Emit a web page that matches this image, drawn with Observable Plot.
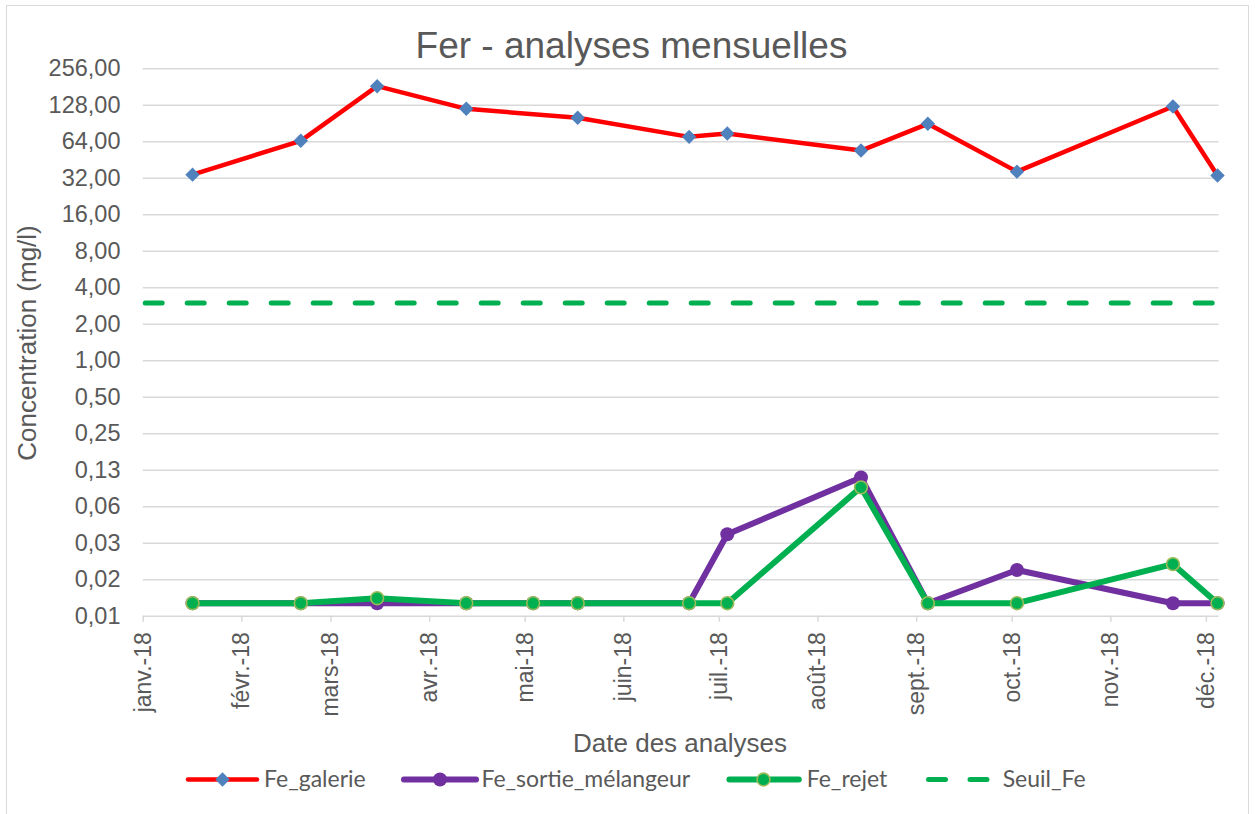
<!DOCTYPE html>
<html><head><meta charset="utf-8">
<script src="https://cdn.jsdelivr.net/npm/d3@7"></script>
<script src="https://cdn.jsdelivr.net/npm/@observablehq/plot@0.6"></script>
<style>
body{margin:0;background:#fff;}
#chart{position:relative;width:1255px;height:814px;overflow:hidden;background:#fff;}
#frame{position:absolute;left:6px;top:5px;width:1243px;height:812px;border:1.4px solid #d9d9d9;box-sizing:border-box;}
#chart svg{position:absolute;left:0;top:0;}
</style></head><body><div id="chart"><div id="frame"></div></div>
<script>
// ---- data ----
const galerieDates = ["2018-01-16","2018-02-19","2018-03-15","2018-04-12","2018-05-17","2018-06-21","2018-07-03","2018-08-14","2018-09-04","2018-10-02","2018-11-20","2018-12-04"];
const galerie = [34.3, 65.2, 184, 119.7, 100.9, 70.3, 74.9, 54.2, 90, 36.3, 125, 33.7];
const sampleDates = ["2018-01-16","2018-02-19","2018-03-15","2018-04-12","2018-05-03","2018-05-17","2018-06-21","2018-07-03","2018-08-14","2018-09-04","2018-10-02","2018-11-20","2018-12-04"];
const sortieMelangeur = [0.01, 0.01, 0.01, 0.01, 0.01, 0.01, 0.01, 0.037, 0.109, 0.01, 0.0188, 0.01, 0.01];
const rejet = [0.01, 0.01, 0.011, 0.01, 0.01, 0.01, 0.01, 0.01, 0.0903, 0.01, 0.01, 0.021, 0.01];
const seuilFe = 3;
const yTicks = [0.0078125, 0.015625, 0.03125, 0.0625, 0.125, 0.25, 0.5, 1, 2, 4, 8, 16, 32, 64, 128, 256];
const monthLabels = ["janv.-18","févr.-18","mars-18","avr.-18","mai-18","juin-18","juil.-18","août-18","sept.-18","oct.-18","nov.-18","déc.-18"];
const seriesNames = ["Fe_galerie","Fe_sortie_mélangeur","Fe_rejet","Seuil_Fe"];
const title = "Fer - analyses mensuelles";
const yTitle = "Concentration (mg/l)";
const xTitle = "Date des analyses";

// ---- build ----
const parse = s => d3.utcHour.offset(d3.utcParse("%Y-%m-%d")(s), 12);
const galerieData = galerieDates.map((d, i) => ({date: parse(d), value: galerie[i]}));
const melData = sampleDates.map((d, i) => ({date: parse(d), value: sortieMelangeur[i]}));
const rejetData = sampleDates.map((d, i) => ({date: parse(d), value: rejet[i]}));
const xStart = new Date(Date.UTC(2018, 0, 1));
const xEnd = new Date(Date.UTC(2018, 11, 5));
const monthTicks = d3.utcMonth.range(xStart, new Date(Date.UTC(2018, 11, 2)));
const fmt = d => d3.format(".2f")(d).replace(".", ",");

const grey = "#595959", gridC = "#d9d9d9";
const red = "#ff0000", blue = "#4f81bd", purple = "#7030a0", green = "#00b050", greenEdge = "#9bbb59";

const svg = Plot.plot({
  width: 1255, height: 814,
  marginLeft: 142.7, marginRight: 36.4, marginTop: 68.3, marginBottom: 198.3,
  style: {fontFamily: "'Liberation Sans', Arial, sans-serif", color: grey, background: "transparent", overflow: "visible"},
  x: {type: "utc", domain: [xStart, xEnd], label: null},
  y: {type: "log", base: 2, domain: [yTicks[0], yTicks[yTicks.length - 1]], label: null},
  marks: [
    Plot.gridY({ticks: yTicks, stroke: gridC, strokeWidth: 1.5, strokeOpacity: 1}),
    Plot.axisY({ticks: yTicks, tickFormat: fmt, tickSize: 0, tickPadding: 22.7, fontSize: 23.5, fill: grey, label: null}),
    Plot.axisX({ticks: monthTicks, tickFormat: d => monthLabels[d.getUTCMonth()], tickRotate: -90, tickSize: 6, tickPadding: 10, fontSize: 23, stroke: gridC, strokeWidth: 1.5, strokeOpacity: 1, fill: grey, label: null}),
    Plot.ruleY([seuilFe], {stroke: green, strokeWidth: 5, strokeDasharray: "17,25", strokeDashoffset: -2.5, strokeLinecap: "round"}),
    Plot.line(galerieData, {x: "date", y: "value", stroke: red, strokeWidth: 4.5}),
    Plot.dot(galerieData, {x: "date", y: "value", symbol: "diamond2", r: 6.5, fill: blue, stroke: "none"}),
    Plot.line(melData, {x: "date", y: "value", stroke: purple, strokeWidth: 6}),
    Plot.dot(melData, {x: "date", y: "value", r: 7, fill: purple, stroke: "none"}),
    Plot.line(rejetData, {x: "date", y: "value", stroke: green, strokeWidth: 6}),
    Plot.dot(rejetData, {x: "date", y: "value", r: 6.4, fill: green, stroke: greenEdge, strokeWidth: 1.6})
  ]
});
document.getElementById("chart").appendChild(svg);

// ---- titles ----
const s = d3.select(svg);
s.append("text").attr("x", 631.5).attr("y", 58.3).attr("text-anchor", "middle")
  .attr("font-size", 37).attr("fill", grey).text(title);
s.append("text").attr("transform", "translate(36,343) rotate(-90)").attr("text-anchor", "middle")
  .attr("font-size", 26).attr("fill", grey).text(yTitle);
s.append("text").attr("x", 680).attr("y", 751.7).attr("text-anchor", "middle")
  .attr("font-size", 26).attr("fill", grey).text(xTitle);

// ---- legend ----
const lg = s.append("g").attr("font-family", "Lato, 'Open Sans', sans-serif").attr("font-size", 23).attr("fill", grey).attr("text-anchor", "start");
const ly = 779.5, ty = 787;
// Fe_galerie
lg.append("line").attr("x1", 188).attr("x2", 257).attr("y1", ly).attr("y2", ly).attr("stroke", red).attr("stroke-width", 4.5).attr("stroke-linecap", "round");
lg.append("path").attr("d", d3.symbol(d3.symbolDiamond2, Math.pow(7.2 / 0.62625, 2))()).attr("transform", `translate(222.5,${ly})`).attr("fill", blue);
lg.append("text").attr("x", 264).attr("y", ty).text(seriesNames[0]);
// Fe_sortie_mélangeur
lg.append("line").attr("x1", 404).attr("x2", 476).attr("y1", ly).attr("y2", ly).attr("stroke", purple).attr("stroke-width", 6).attr("stroke-linecap", "round");
lg.append("circle").attr("cx", 440).attr("cy", ly).attr("r", 7).attr("fill", purple);
lg.append("text").attr("x", 481.4).attr("y", ty).text(seriesNames[1]);
// Fe_rejet
lg.append("line").attr("x1", 729.4).attr("x2", 798.8).attr("y1", ly).attr("y2", ly).attr("stroke", green).attr("stroke-width", 6).attr("stroke-linecap", "round");
lg.append("circle").attr("cx", 763.5).attr("cy", ly).attr("r", 6.4).attr("fill", green).attr("stroke", greenEdge).attr("stroke-width", 1.6);
lg.append("text").attr("x", 806.7).attr("y", ty).text(seriesNames[2]);
// Seuil_Fe
lg.append("line").attr("x1", 928.5).attr("x2", 989).attr("y1", ly).attr("y2", ly).attr("stroke", green).attr("stroke-width", 5).attr("stroke-linecap", "round").attr("stroke-dasharray", "17,24.5");
lg.append("text").attr("x", 1002.7).attr("y", ty).text(seriesNames[3]);
</script>
</body></html>
